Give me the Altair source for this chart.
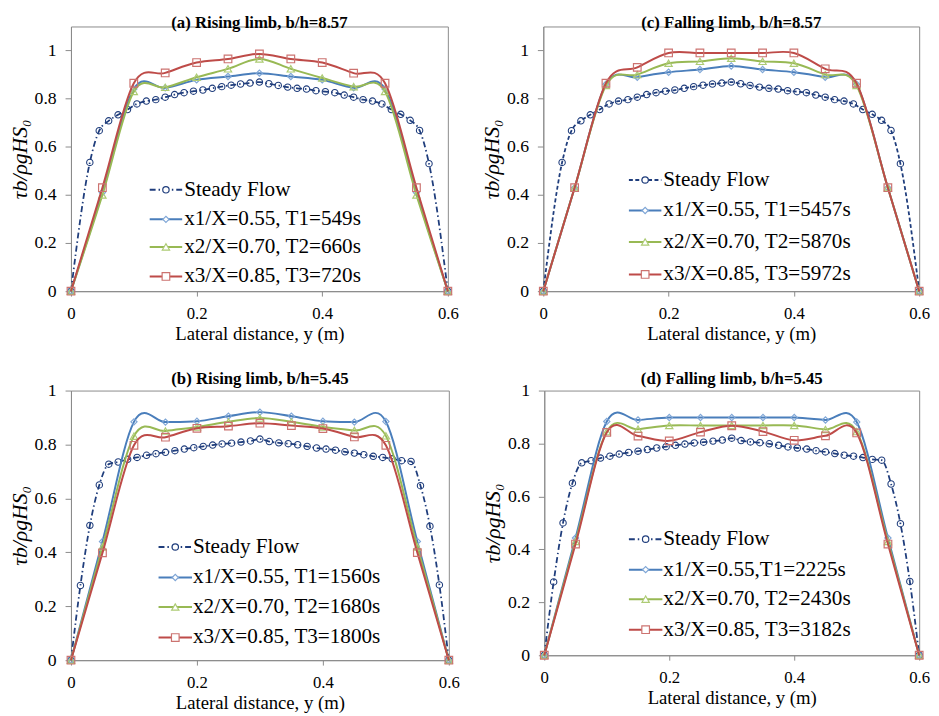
import altair as alt
import pandas as pd

FONT = "Liberation Serif"
NAVY = "#1F3D7C"
LINE_COLORS = ["#4A7EBB", "#98B954", "#BE4B48"]
MARK_COLORS = ["#7FA6D6", "#ADCB74", "#CC7370"]
MARK_SHAPES = ["diamond", "triangle-up", "square"]
MARK_SIZES = [40, 55, 60]

# lateral positions of the unsteady measurements
X_UNSTEADY = [0, 0.05, 0.1, 0.15, 0.2, 0.25, 0.3, 0.35, 0.4, 0.45, 0.5, 0.55, 0.6]

# ---- b/h = 8.57 steady flow ----
S857_X = [0, 0.03, 0.045, 0.06, 0.075, 0.09, 0.105, 0.12, 0.135, 0.15,
          0.165, 0.18, 0.195, 0.21, 0.225, 0.24, 0.255, 0.27, 0.285, 0.3,
          0.315, 0.33, 0.345, 0.36, 0.375, 0.39, 0.405, 0.42, 0.435, 0.45,
          0.465, 0.48, 0.495, 0.51, 0.525, 0.54, 0.555, 0.57, 0.6]
S857_Y = [0, 0.535, 0.667, 0.708, 0.733, 0.755, 0.778, 0.79, 0.796, 0.806,
          0.817, 0.825, 0.831, 0.836, 0.843, 0.85, 0.856, 0.861, 0.865, 0.869,
          0.862, 0.855, 0.848, 0.843, 0.84, 0.833, 0.829, 0.825, 0.815, 0.806,
          0.796, 0.79, 0.778, 0.755, 0.735, 0.71, 0.668, 0.53, 0]

# ---- b/h = 5.45 steady flow ----
S545_X = [0, 0.015, 0.03, 0.045, 0.06, 0.075, 0.09, 0.105, 0.12, 0.135,
          0.15, 0.165, 0.18, 0.195, 0.21, 0.225, 0.24, 0.255, 0.27, 0.285,
          0.3, 0.315, 0.33, 0.345, 0.36, 0.375, 0.39, 0.405, 0.42, 0.435,
          0.45, 0.465, 0.48, 0.495, 0.51, 0.525, 0.54, 0.555, 0.57, 0.585, 0.6]
S545_Y = [0, 0.277, 0.50, 0.65, 0.727, 0.735, 0.745, 0.752, 0.76, 0.766,
          0.771, 0.777, 0.783, 0.788, 0.793, 0.798, 0.802, 0.805, 0.809, 0.813,
          0.82, 0.811, 0.806, 0.803, 0.799, 0.793, 0.787, 0.783, 0.779, 0.773,
          0.768, 0.762, 0.756, 0.752, 0.747, 0.74, 0.737, 0.647, 0.497, 0.279, 0]

# ---- (a) rising limb, b/h = 8.57 ----
A_X1 = [0, 0.41, 0.84, 0.845, 0.878, 0.892, 0.906, 0.892, 0.878, 0.845, 0.84, 0.41, 0]
A_X2 = [0, 0.40, 0.83, 0.847, 0.889, 0.924, 0.965, 0.924, 0.886, 0.85, 0.83, 0.40, 0]
A_X3 = [0, 0.43, 0.864, 0.907, 0.95, 0.965, 0.986, 0.965, 0.95, 0.906, 0.864, 0.43, 0]
A_LABELS = ["Steady Flow", "x1/X=0.55, T1=549s", "x2/X=0.70, T2=660s", "x3/X=0.85, T3=720s"]

# ---- (c) falling limb, b/h = 8.57 ----
C_X1 = [0, 0.43, 0.86, 0.889, 0.91, 0.921, 0.936, 0.921, 0.91, 0.889, 0.86, 0.43, 0]
C_X2 = [0, 0.43, 0.855, 0.90, 0.947, 0.955, 0.968, 0.955, 0.947, 0.90, 0.855, 0.43, 0]
C_X3 = [0, 0.43, 0.864, 0.93, 0.99, 0.99, 0.99, 0.99, 0.99, 0.924, 0.864, 0.43, 0]
C_LABELS = ["Steady Flow", "x1/X=0.55, T1=5457s", "x2/X=0.70, T2=5870s", "x3/X=0.85, T3=5972s"]

# ---- (b) rising limb, b/h = 5.45 ----
B_X1 = [0, 0.44, 0.884, 0.883, 0.886, 0.905, 0.92, 0.905, 0.886, 0.883, 0.885, 0.44, 0]
B_X2 = [0, 0.42, 0.831, 0.85, 0.865, 0.884, 0.898, 0.884, 0.865, 0.852, 0.832, 0.42, 0]
B_X3 = [0, 0.398, 0.797, 0.827, 0.86, 0.868, 0.879, 0.870, 0.859, 0.828, 0.797, 0.399, 0]
B_LABELS = ["Steady Flow", "x1/X=0.55, T1=1560s", "x2/X=0.70, T2=1680s", "x3/X=0.85, T3=1800s"]

# ---- (d) falling limb, b/h = 5.45 ----
D_X1 = [0, 0.443, 0.883, 0.889, 0.898, 0.898, 0.898, 0.898, 0.898, 0.889, 0.881, 0.443, 0]
D_X2 = [0, 0.43, 0.845, 0.854, 0.868, 0.868, 0.868, 0.868, 0.868, 0.853, 0.845, 0.43, 0]
D_X3 = [0, 0.42, 0.842, 0.828, 0.81, 0.843, 0.867, 0.845, 0.812, 0.829, 0.84, 0.42, 0]
D_LABELS = ["Steady Flow", "x1/X=0.55,T1=2225s", "x2/X=0.70, T2=2430s", "x3/X=0.85, T3=3182s"]

DASH_DOT = [6, 3, 1.5, 3]
DASHED = [4, 2.5]


def panel(title, sx, sy, series, labels, dash, ymax, w, h, leg):
    xs = alt.Scale(domain=[0, 0.6], nice=False, zero=False)
    ys = alt.Scale(domain=[0, ymax], nice=False)
    xax = alt.Axis(values=[0, 0.2, 0.4, 0.6], format="~g",
                   title="Lateral distance, y (m)", titleFontSize=19,
                   labelFontSize=17, tickSize=5, labelPadding=10,
                   titlePadding=3, labelFlush=False, grid=False)
    yax = alt.Axis(values=[0, 0.2, 0.4, 0.6, 0.8, 1], format="~g",
                   title="τb/ρgHS₀", titleFontSize=22, titleFontStyle="italic",
                   labelFontSize=18, tickSize=6, labelPadding=9,
                   titlePadding=3, labelFlush=False, grid=False)
    enc = dict(x=alt.X("x:Q", scale=xs, axis=xax),
               y=alt.Y("v:Q", scale=ys, axis=yax))
    sdf = pd.DataFrame({"x": sx, "v": sy})
    layers = [
        alt.Chart(sdf).mark_line(color=NAVY, strokeWidth=1.8, strokeDash=dash,
                                 interpolate="monotone").encode(**enc),
        alt.Chart(sdf).mark_point(shape="circle", filled=False, color=NAVY,
                                  size=42, strokeWidth=1.1, opacity=1).encode(**enc),
    ]
    for vals, col, mcol, shp, sz in zip(series, LINE_COLORS, MARK_COLORS,
                                        MARK_SHAPES, MARK_SIZES):
        df = pd.DataFrame({"x": X_UNSTEADY, "v": vals})
        layers.append(alt.Chart(df).mark_line(color=col, strokeWidth=2,
                                              interpolate="cardinal").encode(**enc))
        layers.append(alt.Chart(df).mark_point(shape=shp, filled=False, color=mcol,
                                               size=sz, strokeWidth=1.2,
                                               opacity=1).encode(**enc))
    # in-plot legend
    one = pd.DataFrame({"k": [0]})
    x0, x1, tx, rows = leg
    mid = (x0 + x1) / 2
    entries = [(NAVY, NAVY, "circle", 42, dash)] + [
        (c, m, s, z, None) for c, m, s, z in zip(LINE_COLORS, MARK_COLORS, MARK_SHAPES, MARK_SIZES)]
    for (col, mcol, shp, sz, dsh), lab, yv in zip(entries, labels, rows):
        rk = dict(color=col, strokeWidth=2)
        if dsh:
            rk["strokeDash"] = dsh
        layers.append(alt.Chart(one).mark_rule(**rk).encode(
            x=alt.value(x0), x2=alt.value(x1), y=alt.value(yv)))
        layers.append(alt.Chart(one).mark_point(shape=shp, filled=True, fill="white",
                                                color=mcol, stroke=mcol, size=sz,
                                                strokeWidth=1.2, opacity=1).encode(
            x=alt.value(mid), y=alt.value(yv)))
        layers.append(alt.Chart(one).mark_text(text=lab, align="left", baseline="middle",
                                               font=FONT, fontSize=21.5, color="black").encode(
            x=alt.value(tx), y=alt.value(yv)))
    return alt.layer(*layers).properties(width=w, height=h, title=title)


pa = panel("(a) Rising limb, b/h=8.57", S857_X, S857_Y, [A_X1, A_X2, A_X3], A_LABELS,
           DASH_DOT, 1.1, 383, 269, (80, 113, 115, [166, 196, 224, 254]))
pc = panel("(c) Falling limb, b/h=8.57", S857_X, S857_Y, [C_X1, C_X2, C_X3], C_LABELS,
           DASHED, 1.1, 382, 269, (87, 120, 122, [156, 187, 219, 252]))
pb = panel("(b) Rising limb, b/h=5.45", S545_X, S545_Y, [B_X1, B_X2, B_X3], B_LABELS,
           DASH_DOT, 1.0, 384, 274, (89, 123, 124, [159, 190, 220, 251]))
pd_ = panel("(d) Falling limb, b/h=5.45", S545_X, S545_Y, [D_X1, D_X2, D_X3], D_LABELS,
            DASH_DOT, 1.0, 381, 269, (86, 120, 121, [151, 182, 212, 243]))

top = alt.hconcat(pa, pc, spacing=21)
bot = alt.hconcat(pb, pd_, spacing=21)

chart = alt.vconcat(top, bot, spacing=25).properties(padding=0).configure_view(
    stroke="#8a8a8a", strokeWidth=1
).configure_axis(
    domainColor="#8a8a8a", tickColor="#8a8a8a", labelFont=FONT, titleFont=FONT,
    labelColor="black", titleColor="black", titleFontWeight="normal", grid=False
).configure_title(
    font=FONT, fontSize=17, fontWeight="bold", offset=-6, anchor="middle", color="black"
)

chart.save("out.html", embed_options={"renderer": "svg", "actions": False})
